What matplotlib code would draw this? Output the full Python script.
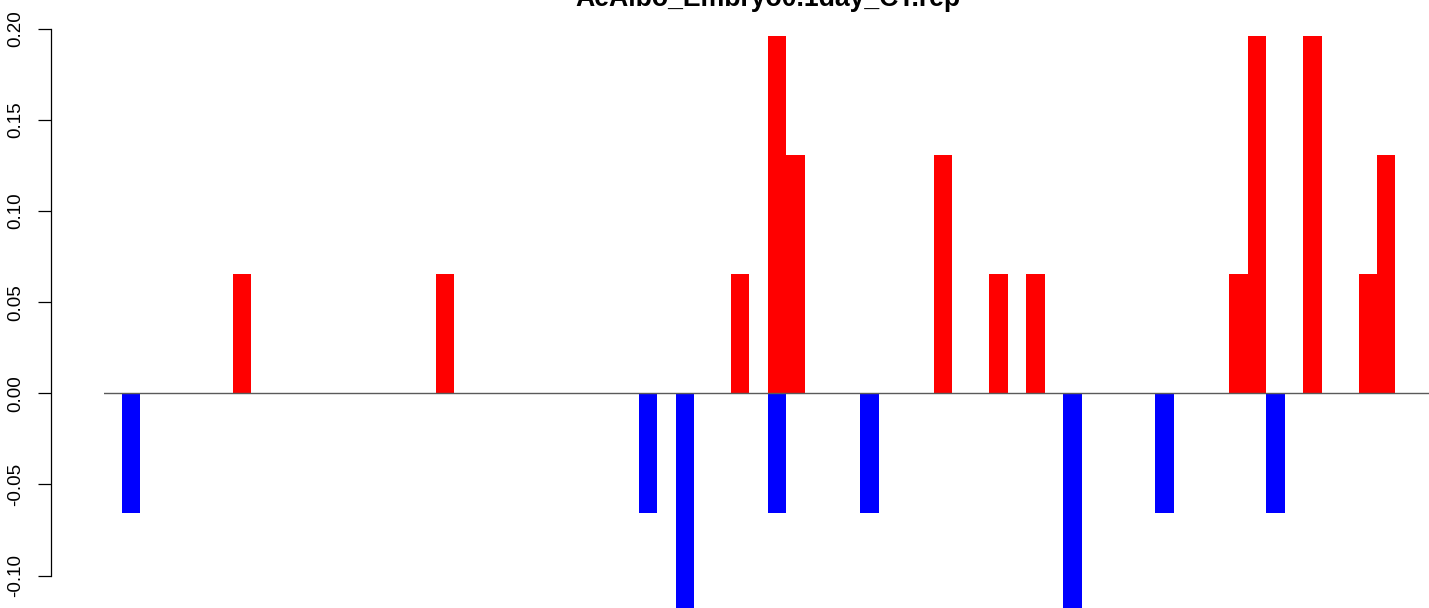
import matplotlib
matplotlib.use('Agg')
import matplotlib.pyplot as plt
import numpy as np

plt.rcParams['font.family'] = ['Liberation Sans', 'DejaVu Sans']

title = 'AeAlbo_Embryo0.1day_CT.rep'

# bar slots (0-based) and heights
gain_pos = [7, 18, 34, 36, 37, 45, 48, 50, 61, 62, 65, 68, 69]
gain_val = [0.0654, 0.0654, 0.0654, 0.1962, 0.1308, 0.1308, 0.0654, 0.0654,
            0.0654, 0.1962, 0.1962, 0.0654, 0.1308]
loss_pos = [1, 29, 31, 36, 41, 52, 57, 63]
loss_val = [-0.0654, -0.0654, -0.1308, -0.0654, -0.0654, -0.1308, -0.0654, -0.0654]
y_ticks = [-0.10, -0.05, 0.00, 0.05, 0.10, 0.15, 0.20]

W, H = 1429, 608
fig = plt.figure(figsize=(W / 100, H / 100), dpi=100)
ax = fig.add_axes([103.5 / W, 0, 1 - 103.5 / W, 1])

ax.bar(gain_pos, gain_val, width=1, align='edge', color='#ff0000', linewidth=0)
ax.bar(loss_pos, loss_val, width=1, align='edge', color='#0000ff', linewidth=0)
ax.axhline(0, color='#5a5a5a', linewidth=1.0, zorder=3)

ax.set_xlim(0, (W - 103.5) / 18.456)
px = 1823.3
ax.set_ylim(-(H - 393.3) / px, 393.3 / px)

for s in ['top', 'right', 'bottom']:
    ax.spines[s].set_visible(False)
ax.spines['left'].set_position(('outward', (103.5 - 50.7) * 0.72))
ax.spines['left'].set_bounds(-0.10, 0.20)
ax.spines['left'].set_linewidth(0.9)
ax.set_xticks([])
ax.set_yticks(y_ticks)
ax.set_yticklabels(['%.2f' % v for v in y_ticks], rotation=90, va='center')
ax.tick_params(axis='y', length=13 * 0.72, width=0.9, pad=10, labelsize=13.5)
ax.patch.set_alpha(0)

fig.text(768 / W, 1 - 6 / H, title, ha='center', va='baseline',
         fontsize=19.2, fontweight='bold')

fig.savefig('out.png', dpi=100)
